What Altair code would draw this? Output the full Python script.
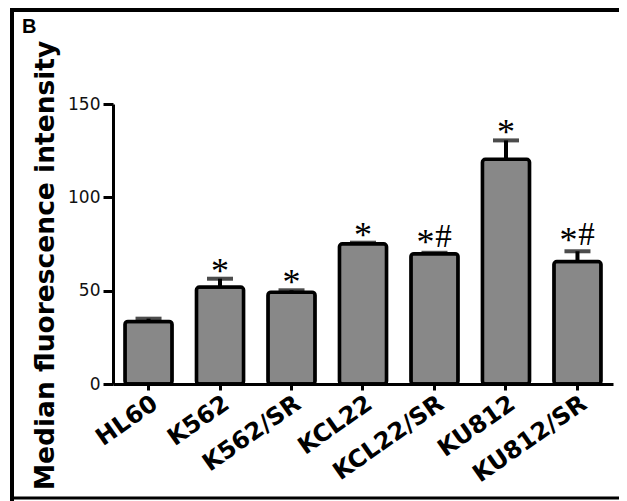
import altair as alt
import pandas as pd

cells = ["HL60", "K562", "K562/SR", "KCL22", "KCL22/SR", "KU812", "KU812/SR"]
values = [33.5, 51.9, 49.2, 75.1, 69.8, 120.4, 65.6]
errors = [35.0, 56.4, 50.2, 75.7, 70.3, 130.5, 71.1]
sig = ["", "*", "*", "*", "*#", "*", "*#"]
y_ticks = [0, 50, 100, 150]

df = pd.DataFrame({"cell": cells, "value": values, "err": errors, "sig": sig})

xenc = alt.X(
    "cell:N",
    sort=cells,
    title="",
    scale=alt.Scale(paddingInner=0.34, paddingOuter=0.167),
    axis=alt.Axis(
        labelAngle=325,
        labelAlign="right",
        labelBaseline="top",
        labelFont="DejaVu Sans",
        labelFontWeight="bold",
        labelFontSize=24,
        labelColor="black",
        labelPadding=1,
        tickSize=6,
        tickWidth=3,
        tickColor="black",
        domainWidth=3,
        domainColor="black",
        labelOverlap=False,
    ),
)
xs = alt.X("cell:N", sort=cells)

base = alt.Chart(df)

bars = base.mark_bar(
    fill="#888888", stroke="black", strokeWidth=3.5, cornerRadius=3
).encode(
    x=xenc,
    y=alt.Y(
        "value:Q",
        scale=alt.Scale(domain=[0, 150], nice=False),
        axis=alt.Axis(
            values=y_ticks,
            title="Median fluorescence intensity",
            titleFont="DejaVu Sans",
            titleFontWeight="bold",
            titleFontSize=26.5,
            titleColor="black",
            titleAngle=270,
            titleAlign="center",
            titleBaseline="alphabetic",
            titleX=-60,
            titleY=161,
            labelFont="DejaVu Sans",
            labelFontSize=17,
            labelColor="#111111",
            labelPadding=3,
            tickSize=10,
            tickWidth=3,
            tickColor="black",
            domainWidth=3,
            domainColor="black",
            grid=False,
        ),
    ),
)

stems = base.mark_rule(strokeWidth=4, color="black").encode(x=xs, y="value:Q", y2="err:Q")
caps = base.mark_tick(size=26, thickness=4, color="black").encode(x=xs, y="err:Q")

star_single = base.transform_filter(alt.datum.sig == "*").mark_text(
    font="Liberation Serif", fontSize=36, dy=4, baseline="alphabetic", align="center", color="black"
).encode(x=xs, y="err:Q", text=alt.value("*"))
star_pair = base.transform_filter(alt.datum.sig == "*#").mark_text(
    font="Liberation Serif", fontSize=36, dx=-9, dy=1, baseline="alphabetic", align="center", color="black"
).encode(x=xs, y="err:Q", text=alt.value("*"))
hash_pair = base.transform_filter(alt.datum.sig == "*#").mark_text(
    font="Liberation Serif", fontSize=33, dx=9, dy=-6, baseline="alphabetic", align="center", color="black"
).encode(x=xs, y="err:Q", text=alt.value("#"))

edge = pd.DataFrame({"k": [0]})
top_rule = alt.Chart(edge).mark_rule(stroke="black", strokeWidth=4).encode(
    x=alt.value(-103), x2=alt.value(520), y=alt.value(-94)
)
left_rule = alt.Chart(edge).mark_rule(stroke="black", strokeWidth=4).encode(
    x=alt.value(-101), y=alt.value(-96), y2=alt.value(397)
)
bottom_rule = alt.Chart(edge).mark_rule(stroke="black", strokeWidth=3).encode(
    x=alt.value(-103), x2=alt.value(520), y=alt.value(394)
)

panel = alt.Chart(pd.DataFrame({"t": ["B"]})).mark_text(
    font="Liberation Sans", fontWeight="bold", fontSize=20, align="left", baseline="alphabetic", color="black"
).encode(x=alt.value(-91), y=alt.value(-71), text="t:N")

chart = alt.layer(
    bars, stems, caps, star_single, star_pair, hash_pair, top_rule, left_rule, bottom_rule, panel
).properties(
    width=500,
    height=280,
    padding={"left": 105, "top": 96, "right": 6, "bottom": 117},
    autosize=alt.AutoSizeParams(type="none"),
    background="white",
).configure_view(stroke=None)

chart.save("out.html", embed_options={"renderer": "svg", "actions": False})
